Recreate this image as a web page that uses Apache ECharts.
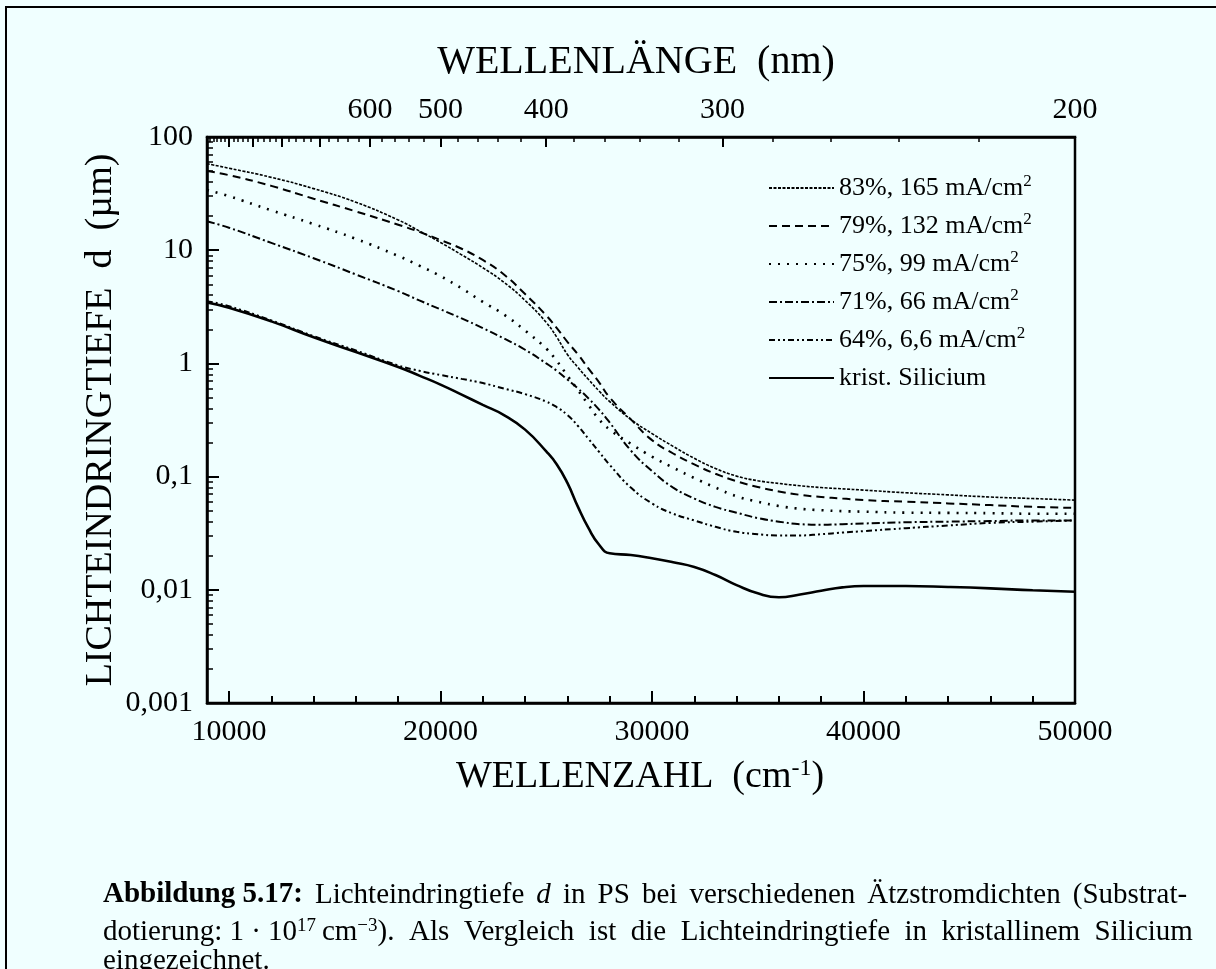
<!DOCTYPE html>
<html><head><meta charset="utf-8">
<script src="https://cdn.jsdelivr.net/npm/echarts@6/dist/echarts.min.js"></script>
<style>html,body{margin:0;padding:0;background:#F0FFFF}#c{width:1216px;height:969px}</style>
</head><body><div id="c"></div>
<script>
// Wellenzahl (cm^-1)
const wavenumbers = [8960,10000,12000,14000,16000,18000,19000,20000,21000,22000,23000,24000,25000,25500,26000,26500,27000,27500,28000,29000,30000,31000,32000,33000,34000,35000,36000,37000,38000,39000,40000,42000,44000,46000,48000,50000];
// Lichteindringtiefe d (µm)
const d83 = [58,53,44,35,26.5,18.5,14.8,11.7,9.1,7.0,5.2,3.6,2.3,1.7,1.2,0.92,0.72,0.57,0.46,0.32,0.24,0.185,0.145,0.118,0.101,0.092,0.087,0.083,0.08,0.078,0.076,0.072,0.069,0.066,0.064,0.062];
const d79 = [50,46,37,28.5,22,16.8,14.5,12.3,10.3,8.2,6.1,4.1,2.65,2.05,1.55,1.2,0.9,0.68,0.5,0.32,0.21,0.16,0.128,0.106,0.091,0.081,0.074,0.069,0.066,0.064,0.062,0.06,0.058,0.056,0.054,0.053];
const d75 = [34,30,22.5,17,12.6,8.9,7.3,5.9,4.6,3.5,2.7,1.95,1.35,1.05,0.78,0.58,0.43,0.32,0.26,0.195,0.15,0.12,0.097,0.08,0.067,0.06,0.055,0.052,0.0505,0.0495,0.049,0.048,0.0478,0.0475,0.047,0.047];
const d71 = [18,15.8,11.6,8.5,6.1,4.35,3.6,3.0,2.5,2.05,1.66,1.32,1.0,0.86,0.72,0.6,0.49,0.39,0.3,0.17,0.112,0.08,0.064,0.054,0.048,0.043,0.040,0.038,0.0375,0.038,0.0385,0.0395,0.040,0.0405,0.041,0.041];
const d64 = [3.55,3.2,2.4,1.74,1.3,0.96,0.86,0.79,0.73,0.67,0.60,0.535,0.46,0.41,0.35,0.28,0.215,0.165,0.127,0.08,0.058,0.047,0.041,0.036,0.0325,0.031,0.0302,0.0302,0.031,0.032,0.033,0.035,0.037,0.039,0.040,0.041];
const dSi = [3.45,3.1,2.35,1.7,1.26,0.93,0.78,0.65,0.53,0.43,0.35,0.26,0.167,0.128,0.088,0.054,0.035,0.025,0.021,0.0203,0.019,0.0175,0.0159,0.0135,0.011,0.0093,0.0086,0.0091,0.0098,0.0105,0.0108,0.0108,0.0106,0.0103,0.0099,0.0096];

const seriesNames = ['83%, 165 mA/cm2','79%, 132 mA/cm2','75%, 99 mA/cm2','71%, 66 mA/cm2','64%, 6,6 mA/cm2','krist. Silicium'];

// tick labels
const xMajorTicks = [10000,20000,30000,40000,50000];
const xMinorTicks = [12000,14000,16000,18000,22000,24000,26000,28000,32000,34000,36000,38000,42000,44000,46000,48000];
const topLabelsNm = [600,500,400,300,200];
const topMajorNm = [1000,900,800,700,600,500,400,300,200];
const topMinorNm = [1100,1080,1060,1040,1020,980,960,940,920,880,860,840,820,780,760,740,720,680,660,640,620,580,560,540,520,480,460,440,420,380,360,340,320,280,260,240,220];
const yMajorTicks = [0.001,0.01,0.1,1,10,100];
const yTickLabels = ['0,001','0,01','0,1','1','10','100'];
const yMinorTicks = [];
[0.001,0.01,0.1,1,10].forEach(b=>{for(let m=2;m<=9;m++) yMinorTicks.push(+(b*m).toPrecision(3));});

const FONT = '"Liberation Serif", "Times New Roman", serif';
const pair = arr => wavenumbers.map((k,i)=>[k,arr[i]]);
const nm2k = nm => 1e7/nm;

const styles = [
  {type:[3,1.5], width:1.6},
  {type:[8,5], width:2},
  {type:[2,7], width:2.6},
  {type:[8,3,2,3], width:2},
  {type:[6,3,2,3,2,3], width:2},
  {type:'solid', width:2.6}
];
const dataSets = [d83,d79,d75,d71,d64,dSi];
const SP = ' \u2006';

const chart = echarts.init(document.getElementById('c'), null, {renderer:'canvas'});
const baseX = {type:'value', min:8960, max:50000, gridIndex:0, splitLine:{show:false}};
const AX = {color:'#000', width:2.5};
chart.setOption({
  animation:false,
  backgroundColor:'#F0FFFF',
  grid:{left:207, top:137, width:868, height:566, show:true, borderColor:'#000', borderWidth:2.5, backgroundColor:'transparent'},
  xAxis:[
    Object.assign({}, baseX, {position:'bottom',
      axisLine:{show:true, onZero:false, lineStyle:AX},
      axisTick:{show:true, inside:true, length:12, customValues:xMajorTicks, lineStyle:{color:'#000', width:2}},
      axisLabel:{show:true, customValues:xMajorTicks, margin:14, fontSize:30, fontFamily:FONT, color:'#000', formatter:v=>String(v)}}),
    Object.assign({}, baseX, {position:'bottom',
      axisLine:{show:false, onZero:false},
      axisTick:{show:true, inside:true, length:7, customValues:xMinorTicks, lineStyle:{color:'#000', width:2}},
      axisLabel:{show:false}}),
    Object.assign({}, baseX, {position:'top',
      axisLine:{show:true, onZero:false, lineStyle:AX},
      axisTick:{show:true, inside:true, length:10, customValues:topMajorNm.map(nm2k), lineStyle:{color:'#000', width:2}},
      axisLabel:{show:true, customValues:topLabelsNm.map(nm2k), margin:12, fontSize:30, fontFamily:FONT, color:'#000',
        formatter:v=>String(Math.round(1e7/v))}}),
    Object.assign({}, baseX, {position:'top',
      axisLine:{show:false, onZero:false},
      axisTick:{show:true, inside:true, length:5, customValues:topMinorNm.map(nm2k), lineStyle:{color:'#000', width:1.5}},
      axisLabel:{show:false}})
  ],
  yAxis:[
    {type:'log', logBase:10, min:0.001, max:100, position:'left', splitLine:{show:false},
      axisLine:{show:true, onZero:false, lineStyle:AX},
      axisTick:{show:true, inside:true, length:12, customValues:yMajorTicks, lineStyle:{color:'#000', width:2}},
      axisLabel:{show:true, customValues:yMajorTicks, margin:14, fontSize:30, fontFamily:FONT, color:'#000',
        formatter:v=>{const i=yMajorTicks.findIndex(t=>Math.abs(Math.log10(t)-Math.log10(v))<1e-6);return i>=0?yTickLabels[i]:'';}}},
    {type:'log', logBase:10, min:0.001, max:100, position:'left', splitLine:{show:false},
      axisLine:{show:false, onZero:false},
      axisTick:{show:true, inside:true, length:6, customValues:yMinorTicks, lineStyle:{color:'#000', width:1.5}},
      axisLabel:{show:false}}
  ],
  legend:{
    orient:'vertical', left:763, top:168, itemWidth:65, itemHeight:14, itemGap:8,
    data:seriesNames,
    itemStyle:{opacity:0, color:'transparent', borderWidth:0},
    formatter:n=>n.replace(/cm2$/, 'cm{sup|2}'),
    textStyle:{fontSize:26, fontFamily:FONT, color:'#000', lineHeight:30,
      rich:{sup:{fontSize:17, fontFamily:FONT, color:'#000', verticalAlign:'top', lineHeight:18, padding:[0,0,10,0]}}}
  },
  series: seriesNames.map((n,i)=>({
    name:n, type:'line', xAxisIndex:0, yAxisIndex:0, data:pair(dataSets[i]),
    symbol:'none', showSymbol:false, smooth:0.5,
    lineStyle:{color:'#000', type:styles[i].type, width:styles[i].width},
    itemStyle:{color:'#000'}
  })),
  graphic:[
    {type:'rect', silent:true, shape:{x:6, y:7, width:1300, height:1000}, style:{fill:'none', stroke:'#000', lineWidth:2}},
    {type:'text', x:636, y:62, style:{text:'WELLENLÄNGE  (nm)', font:'40px '+FONT, fill:'#000', align:'center', verticalAlign:'middle'}},
    {type:'text', x:640, y:777, style:{text:'WELLENZAHL  (cm{sup|-1})', font:'38px '+FONT, fill:'#000', align:'center', verticalAlign:'middle',
      rich:{sup:{fontSize:24, fontFamily:FONT, fill:'#000', verticalAlign:'top', padding:[0,0,16,0]}}}},
    {type:'text', x:101, y:420, rotation:Math.PI/2, style:{text:'LICHTEINDRINGTIEFE  d  (µm)', font:'38px '+FONT, fill:'#000', align:'center', verticalAlign:'middle'}},
    {type:'text', x:103, y:895, style:{text:['{b|Abbildung 5.17:}','Lichteindringtiefe','{i|d}','in','PS','bei','verschiedenen','Ätzstromdichten','(Substrat-'].join(SP), font:'29px '+FONT, fill:'#000', verticalAlign:'middle',
      rich:{b:{fontWeight:'bold', fontSize:29, fontFamily:FONT, fill:'#000'}, i:{fontStyle:'italic', fontSize:29, fontFamily:FONT, fill:'#000'}}}},
    {type:'text', x:103, y:932, style:{text:'dotierung: 1 · 10{sup|17}\u2009cm{sup|\u22123}).  Als  Vergleich  ist  die  Lichteindringtiefe  in  kristallinem  Silicium', font:'29px '+FONT, fill:'#000', verticalAlign:'middle',
      rich:{sup:{fontSize:19, fontFamily:FONT, fill:'#000', verticalAlign:'top', padding:[0,0,12,0]}}}},
    {type:'text', x:103, y:961, style:{text:'eingezeichnet.', font:'29px '+FONT, fill:'#000', verticalAlign:'middle'}}
  ]
});
</script></body></html>
